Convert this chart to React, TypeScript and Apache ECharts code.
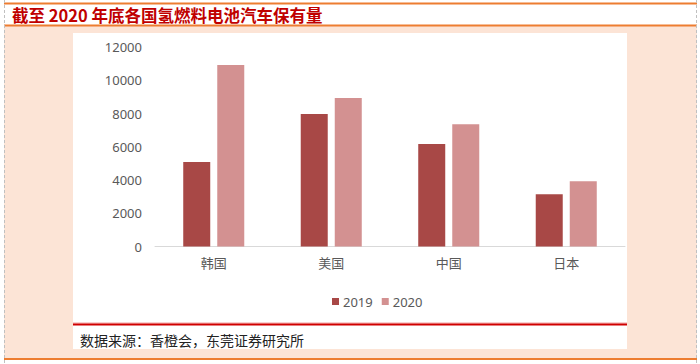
import React, { useEffect, useRef } from "react";
import * as echarts from "echarts";

const categories = ["韩国", "美国", "中国", "日本"];
const series2019 = [5080, 7970, 6170, 3150];
const series2020 = [10910, 8930, 7350, 3920];
const seriesNames = ["2019", "2020"];
const titleText = "截至 2020 年底各国氢燃料电池汽车保有量";
const sourceText = "数据来源：香橙会，东莞证券研究所";

export default function App() {
  const ref = useRef<HTMLDivElement>(null);
  useEffect(() => {
    if (!ref.current) return;
    const chart = echarts.init(ref.current, undefined, { renderer: "svg" });
    const orange = "#ED7D31";
    chart.setOption({
      animation: false,
      backgroundColor: "#ffffff",
      graphic: [
        { type: "rect", z: -10, shape: { x: 4, y: 26, width: 693, height: 333 }, style: { fill: "#FCE4D6" } },
        { type: "rect", z: -9, shape: { x: 73, y: 33, width: 554, height: 316 }, style: { fill: "#ffffff" } },
        { type: "line", z: -8, shape: { x1: 4, y1: 3.5, x2: 697, y2: 3.5 }, style: { stroke: orange, lineWidth: 2 } },
        { type: "line", z: -8, shape: { x1: 4, y1: 25.5, x2: 697, y2: 25.5 }, style: { stroke: orange, lineWidth: 2 } },
        { type: "line", z: -8, shape: { x1: 4, y1: 359, x2: 697, y2: 359 }, style: { stroke: orange, lineWidth: 2 } },
        { type: "line", z: -8, shape: { x1: 4.5, y1: 0, x2: 4.5, y2: 364 }, style: { stroke: "#c0c0c0", lineWidth: 1, lineDash: [3, 2] } },
        { type: "line", z: -8, shape: { x1: 696.5, y1: 0, x2: 696.5, y2: 364 }, style: { stroke: "#c0c0c0", lineWidth: 1, lineDash: [3, 2] } },
        { type: "line", z: -8, shape: { x1: 73, y1: 323, x2: 627, y2: 323 }, style: { stroke: "#F2A0A0", lineWidth: 1 } },
        { type: "line", z: -8, shape: { x1: 73, y1: 324.5, x2: 627, y2: 324.5 }, style: { stroke: "#D00000", lineWidth: 2 } },
        {
          type: "text", x: 12, y: 15,
          style: {
            text: titleText, fill: "#C00000", font: "bold 16.5px 'Noto Sans CJK SC', sans-serif",
            textVerticalAlign: "middle", verticalAlign: "middle",
          },
        },
        {
          type: "text", x: 80, y: 340,
          style: {
            text: sourceText, fill: "#222222", font: "14px 'Noto Sans CJK SC', sans-serif",
            textVerticalAlign: "middle", verticalAlign: "middle",
          },
        },
      ],
      grid: { left: 155, right: 75, top: 47, bottom: 117.5 },
      legend: {
        data: seriesNames,
        left: 327,
        top: 290,
        itemWidth: 7,
        itemHeight: 7,
        itemGap: 9,
        icon: "rect",
        textStyle: { color: "#595959", fontSize: 13, fontFamily: "'Noto Sans', sans-serif", padding: [0, 0, 0, -1] },
      },
      xAxis: {
        type: "category",
        data: categories,
        axisLine: { lineStyle: { color: "#D9D9D9", width: 1 } },
        axisTick: { show: false },
        axisLabel: { color: "#595959", fontSize: 13, margin: 9, fontFamily: "'Noto Sans CJK SC', sans-serif" },
      },
      yAxis: {
        type: "value",
        min: 0,
        max: 12000,
        interval: 2000,
        axisLine: { show: false },
        axisTick: { show: false },
        splitLine: { show: false },
        axisLabel: {
          color: "#595959", fontSize: 13, margin: 13, fontFamily: "'Noto Sans', sans-serif",
          formatter: (v: number) => String(v),
        },
      },
      series: [
        {
          name: seriesNames[0], type: "bar", data: series2019, barWidth: 27, barGap: "26%",
          itemStyle: { color: "#A84846" },
        },
        {
          name: seriesNames[1], type: "bar", data: series2020, barWidth: 27,
          itemStyle: { color: "#D39191" },
        },
      ],
    });
    return () => chart.dispose();
  }, []);
  return <div ref={ref} style={{ position: "fixed", left: 0, top: 0, width: 700, height: 364 }} />;
}
